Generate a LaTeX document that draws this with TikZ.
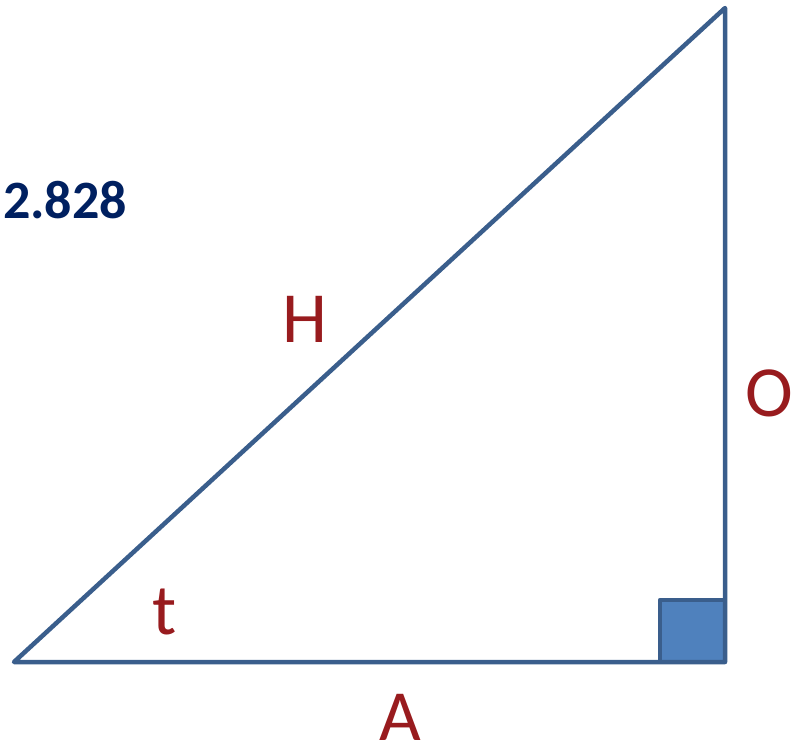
\documentclass[tikz,border=0pt]{standalone}
\usepackage{fontspec}
\setmainfont{Carlito}
\definecolor{edge}{HTML}{3A5E8C}
\definecolor{fillb}{HTML}{4F81BD}
\definecolor{lbl}{HTML}{981B1E}
\definecolor{navy}{HTML}{002060}
\begin{document}
\begin{tikzpicture}[x=1pt,y=-1pt,
  side/.style={draw=edge,line width=4.5pt,line join=round,line cap=round},
  lab/.style={text=lbl,inner sep=0pt,font=\fontsize{72}{72}\selectfont}]
\useasboundingbox (0,0) rectangle (801,749);
\coordinate (P) at (14,662);
\coordinate (Q) at (725,662);
\coordinate (R) at (725,8);
\filldraw[fill=fillb,draw=edge,line width=4.5pt,line join=round] (660,600) rectangle (725,662);
\draw[side] (P) -- (Q) -- (R) -- cycle;
\node[lab] (h) at (304.5,319.5) {H};
\node[lab] (o) at (769,393) {O};
\node[lab] (t) at (165,612) {t};
\node[lab] (a) at (400,717) {A};
\node[inner sep=0pt,text=navy,font=\bfseries\fontsize{54}{54}\selectfont] (v) at (65,200) {2.828};
\end{tikzpicture}
\end{document}
